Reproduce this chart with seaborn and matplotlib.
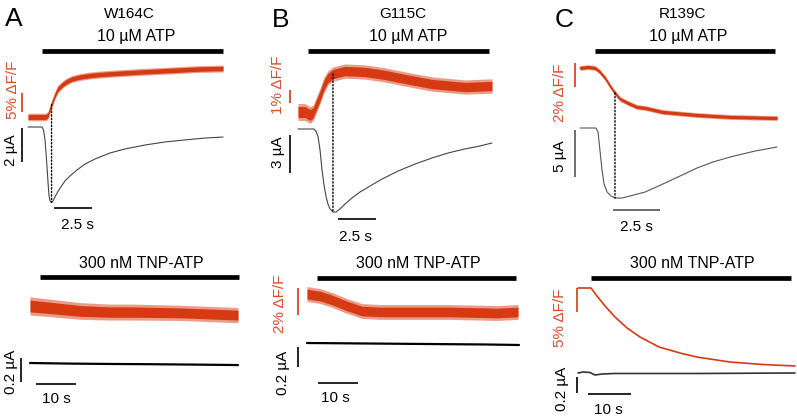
import numpy as np
import matplotlib
matplotlib.use("Agg")
import matplotlib.pyplot as plt
from matplotlib.patches import ConnectionPatch
import seaborn as sns

# ---------------- data (time in s, fluorescence in % dF/F, current in uA) ----------------
# Panel A  W164C, 10 uM ATP
A_f_t = [0, 0.79, 1.18, 1.32, 1.45, 1.58, 1.78, 1.97, 2.24, 2.50, 2.89, 3.42, 4.08, 4.74,
         5.72, 7.37, 9.34, 11.32, 12.83]
A_f = [0, 0, 0, 0.53, 2.11, 3.68, 5.79, 7.37, 8.42, 9.21, 10.0, 10.53, 10.92, 11.18,
       11.45, 11.84, 12.24, 12.63, 12.76]
A_f_noise = [1.0, 1.0, 1.0, 1.0, 1.0, 1.0, 1.0, 1.0, 0.95, 0.95, 0.9, 0.9, 0.9, 0.9,
             0.9, 0.9, 0.9, 0.9, 0.9]
A_i_t = [0, 0.92, 1.02, 1.12, 1.22, 1.32, 1.38, 1.45, 1.55, 1.64, 1.84, 2.11, 2.43, 2.76,
         3.22, 3.75, 4.41, 5.39, 6.38, 7.70, 9.01, 10.33, 11.64, 12.83]
A_i = [0, 0, -0.18, -0.76, -1.94, -3.29, -4.0, -4.35, -4.44, -4.35, -4.0, -3.59, -3.18,
       -2.88, -2.53, -2.18, -1.88, -1.53, -1.29, -1.06, -0.88, -0.76, -0.65, -0.59]
A_stim = [0.92, 12.83]
# Panel A  300 nM TNP-ATP
A2_f_t = [0, 5, 12.5, 20, 25.75, 37.5, 52]
A2_f = [0, -0.5, -1.3, -1.6, -1.6, -1.8, -2.4]
A2_f_noise = [2.4, 2.3, 2.2, 2.1, 2.1, 2.0, 2.0]
A2_i_t = [0, 10, 20, 30, 40, 52]
A2_i = [0, -0.005, -0.008, -0.01, -0.013, -0.017]
A2_stim = [2.5, 52.25]

# Panel B  G115C, 10 uM ATP
B_f_t = [0, 0.46, 0.79, 0.99, 1.18, 1.45, 1.71, 1.97, 2.30, 3.09, 4.41, 5.72, 7.04, 8.82,
         10.99, 12.76]
B_f = [0, 0, -0.23, -0.08, 0.46, 1.23, 2.08, 2.62, 2.92, 3.15, 3.08, 2.85, 2.54, 2.15,
       1.92, 2.0]
B_f_noise = [0.65, 0.65, 0.65, 0.6, 0.6, 0.6, 0.6, 0.55, 0.55, 0.55, 0.55, 0.55, 0.55,
             0.55, 0.55, 0.55]
B_i_t = [0, 1.05, 1.18, 1.32, 1.45, 1.58, 1.71, 1.84, 1.97, 2.11, 2.30, 2.50, 2.76, 3.09,
         3.55, 4.08, 4.74, 5.53, 6.58, 7.70, 8.82, 9.87, 10.99, 11.97, 12.76]
B_i = [0, 0, -0.16, -0.63, -1.65, -3.23, -4.41, -5.28, -5.91, -6.30, -6.54, -6.54, -6.30,
       -5.91, -5.43, -4.96, -4.49, -3.94, -3.31, -2.76, -2.28, -1.89, -1.57, -1.34, -1.10]
B_stim = [0.66, 12.57]
# Panel B  300 nM TNP-ATP
B2_f_t = [0, 3.25, 6.25, 10, 13.75, 18.25, 22.75, 35.25, 47.75, 52.75]
B2_f = [0, -0.15, -0.44, -0.89, -1.26, -1.33, -1.33, -1.33, -1.41, -1.33]
B2_f_noise = [0.55, 0.55, 0.55, 0.55, 0.55, 0.55, 0.55, 0.55, 0.55, 0.55]
B2_i_t = [0, 15, 30, 45, 53]
B2_i = [0, -0.005, -0.01, -0.015, -0.02]
B2_stim = [2.5, 52.25]

# Panel C  R139C, 10 uM ATP
C_f_t = [0, 0.43, 0.80, 1.06, 1.33, 1.60, 1.86, 2.13, 2.55, 3.03, 3.46, 4.41, 6.22, 7.98, 10.48]
C_f = [0, 0.08, 0, -0.33, -0.83, -1.5, -2.08, -2.58, -2.92, -3.25, -3.33, -3.67, -3.92, -4.08, -4.17]
C_f_noise = [0.2, 0.2, 0.2, 0.2, 0.2, 0.2, 0.2, 0.2, 0.2, 0.2, 0.2, 0.2, 0.2, 0.2, 0.2]
C_i_t = [0, 0.85, 0.96, 1.06, 1.17, 1.28, 1.44, 1.65, 1.86, 2.23, 2.66, 3.46, 4.41, 5.32,
         6.22, 7.07, 7.98, 9.31, 10.48]
C_i = [0, 0, -0.43, -2.34, -4.47, -5.96, -6.81, -7.23, -7.45, -7.45, -7.23, -6.81, -5.96,
       -5.11, -4.26, -3.62, -3.09, -2.45, -2.02]
C_stim = [0.80, 10.37]
# Panel C  300 nM TNP-ATP
C2_f_t = [0, 3.02, 4.42, 6.28, 8.60, 11.40, 14.42, 18.84, 23.72, 27.67, 35.35, 43.02, 50.47]
C2_f = [0, 0, -1.67, -3.75, -6.04, -8.33, -10.21, -12.29, -13.54, -14.38, -15.42, -15.94, -16.25]
C2_i_t = [0, 1.16, 2.79, 3.95, 5.58, 8.6, 28.37, 50.47]
C2_i = [0, 0.0125, 0.006, -0.025, -0.0125, -0.006, -0.006, 0]
C2_stim = [3.02, 49.53]

# scale-bar sizes and labels
panel_letters = ["A", "B", "C"]
mutants = ["W164C", "G115C", "R139C"]
stim_top = "10 µM ATP"
stim_bottom = "300 nM TNP-ATP"
f_bar_sizes = [5, 1, 2, 2, 5]            # A top, B top, C top, B bottom, C bottom (%)
f_bar_labels = ["5% ΔF/F", "1% ΔF/F", "2% ΔF/F", "2% ΔF/F", "5% ΔF/F"]
i_bar_sizes = [2, 3, 5, 0.2, 0.2, 0.2]    # A,B,C top ; A,B,C bottom (uA)
i_bar_labels = ["2 µA", "3 µA", "5 µA", "0.2 µA", "0.2 µA", "0.2 µA"]
t_bar_sizes = [2.5, 10]
t_bar_labels = ["2.5 s", "10 s"]

# ---------------- style ----------------
sns.set_theme(style="white")
plt.rcParams["font.family"] = ["Liberation Sans", "DejaVu Sans"]
RED = "#D63A12"
RED_TXT = "#DA4A2E"
W, H = 797, 420
fig = plt.figure(figsize=(W / 100, H / 100), dpi=100)
fig.patch.set_facecolor("white")


def trace_axes(x0, sx, y0, sy):
    ax = fig.add_axes([0, 0, 1, 1])
    ax.set_xlim(-x0 / sx, (W - x0) / sx)
    ax.set_ylim((y0 - H) / sy, y0 / sy)
    ax.set_axis_off()
    ax.patch.set_alpha(0)
    ax._cal = (x0, sx, y0, sy)
    return ax


def t_at(ax, px):
    x0, sx, _, _ = ax._cal
    return (px - x0) / sx


def v_at(ax, py):
    _, _, y0, sy = ax._cal
    return (y0 - py) / sy


def band(ax, t, m, hw):
    t, m, hw = np.asarray(t), np.asarray(m), np.asarray(hw)
    ax.fill_between(t, m - hw, m + hw, color=RED, alpha=0.5, lw=0)
    ax.fill_between(t, m - 0.65 * hw, m + 0.65 * hw, color=RED, lw=0)


def line(ax, t, v, color, lw):
    sns.lineplot(x=t, y=v, ax=ax, color=color, linewidth=lw, estimator=None,
                 sort=False, legend=False)
    ax.set_axis_off()


def stim(ax, on_off, py):
    ax.hlines(v_at(ax, py), on_off[0], on_off[1], color="black", lw=3.4)


def vbar(ax, px, py_top, size, color):
    top = v_at(ax, py_top)
    ax.vlines(t_at(ax, px), top - size, top, color=color, lw=1.2)


def hbar(ax, px, py, size, color="black"):
    t0 = t_at(ax, px)
    ax.hlines(v_at(ax, py), t0, t0 + size, color=color, lw=1.2)


def txt(px, py, s, size=10, color="black", rot=0):
    fig.text(px / W, 1 - py / H, s, ha="center", va="center", fontsize=size,
             color=color, rotation=rot)


def dotted(ax_f, ax_i, t_pk, ft, fv, i_min):
    yf = float(np.interp(t_pk, ft, fv))
    con = ConnectionPatch(xyA=(t_pk, yf), coordsA=ax_f.transData,
                          xyB=(t_pk, i_min), coordsB=ax_i.transData,
                          color="black", lw=1.0, linestyle=(0, (1, 1.5)))
    fig.add_artist(con)


# ---------------- panel A ----------------
fa = trace_axes(28, 15.2, 117, 3.8)
ia = trace_axes(28, 15.2, 127, 17)
band(fa, A_f_t, A_f, A_f_noise)
line(ia, A_i_t, A_i, "#444444", 0.8)
stim(fa, A_stim, 51)
vbar(fa, 22, 93, f_bar_sizes[0], RED)
vbar(ia, 22, 128, i_bar_sizes[0], "black")
hbar(ia, 54, 208, t_bar_sizes[0])
k = int(np.argmin(A_i))
dotted(fa, ia, A_i_t[k], A_f_t, A_f, A_i[k])

fa2 = trace_axes(30, 4, 306, 3.8)
ia2 = trace_axes(30, 4, 363, 120)
band(fa2, A2_f_t, A2_f, A2_f_noise)
line(ia2, A2_i_t, A2_i, "black", 1.6)
stim(fa2, A2_stim, 277)
vbar(ia2, 21, 358, i_bar_sizes[3], "black")
hbar(ia2, 36, 384, t_bar_sizes[1])

# ---------------- panel B ----------------
fb = trace_axes(298, 15.2, 112, 13)
ib = trace_axes(298, 15.2, 129, 12.7)
band(fb, B_f_t, B_f, B_f_noise)
line(ib, B_i_t, B_i, "#444444", 0.8)
stim(fb, B_stim, 51)
vbar(fb, 290, 90, f_bar_sizes[1], RED)
vbar(ib, 290, 135, i_bar_sizes[1], "black")
hbar(ib, 338, 219, t_bar_sizes[0])
k = int(np.argmin(B_i))
dotted(fb, ib, B_i_t[k], B_f_t, B_f, B_i[k])

fb2 = trace_axes(307, 4, 294, 13.5)
ib2 = trace_axes(307, 4, 343, 100)
band(fb2, B2_f_t, B2_f, B2_f_noise)
line(ib2, B2_i_t, B2_i, "black", 1.6)
stim(fb2, B2_stim, 278)
vbar(fb2, 298, 288, f_bar_sizes[3], RED)
vbar(ib2, 298, 347, i_bar_sizes[4], "black")
hbar(ib2, 318, 383, t_bar_sizes[1])

# ---------------- panel C ----------------
fc = trace_axes(580, 18.8, 68, 12)
ic = trace_axes(580, 18.8, 128, 9.4)
band(fc, C_f_t, C_f, C_f_noise)
line(fc, C_f_t, C_f, RED, 1.0)
line(ic, C_i_t, C_i, "#555555", 0.8)
stim(fc, C_stim, 51)
vbar(fc, 575, 63, f_bar_sizes[2], RED)
vbar(ic, 575, 130, i_bar_sizes[2], "#555555")
hbar(ic, 613, 210, t_bar_sizes[0], "#555555")
k = int(np.argmin(C_i))
dotted(fc, ic, C_i_t[k], C_f_t, C_f, C_i[k])

fc2 = trace_axes(578, 4.3, 288, 4.8)
ic2 = trace_axes(578, 4.3, 373, 80)
line(fc2, C2_f_t, C2_f, RED, 1.2)
line(ic2, C2_i_t, C2_i, "#333333", 1.2)
stim(fc2, C2_stim, 278)
vbar(fc2, 577, 288, f_bar_sizes[4], RED)
vbar(ic2, 577, 377, i_bar_sizes[5], "black")
hbar(ic2, 588, 394, t_bar_sizes[1])

# ---------------- text ----------------
for (x, y), s in zip([(14, 19), (281, 20), (564, 20)], panel_letters):
    txt(x, y, s, size=19)
for (x, y), s in zip([(129, 14), (403, 14), (683, 14)], mutants):
    txt(x, y, s, size=11)
for x, y in [(136, 37), (408, 37), (688, 37)]:
    txt(x, y, stim_top, size=11.5)
for x, y in [(141, 263), (418, 263), (692, 263)]:
    txt(x, y, stim_bottom, size=11.5)
for (x, y), s in zip([(13, 90), (278, 85), (560, 93), (280, 304), (560, 318)], f_bar_labels):
    txt(x, y, s, size=11, color=RED_TXT, rot=90)
for (x, y), s in zip([(11, 150), (278, 152), (560, 156), (11, 372), (283, 373), (562, 389)],
                     i_bar_labels):
    txt(x, y, s, size=11, rot=90)
for x, y in [(77, 225), (355, 237), (636, 227)]:
    txt(x, y, t_bar_labels[0], size=11)
for x, y in [(56, 399), (335, 398), (608, 410)]:
    txt(x, y, t_bar_labels[1], size=11)

fig.savefig("out.png", dpi=100, facecolor="white")
